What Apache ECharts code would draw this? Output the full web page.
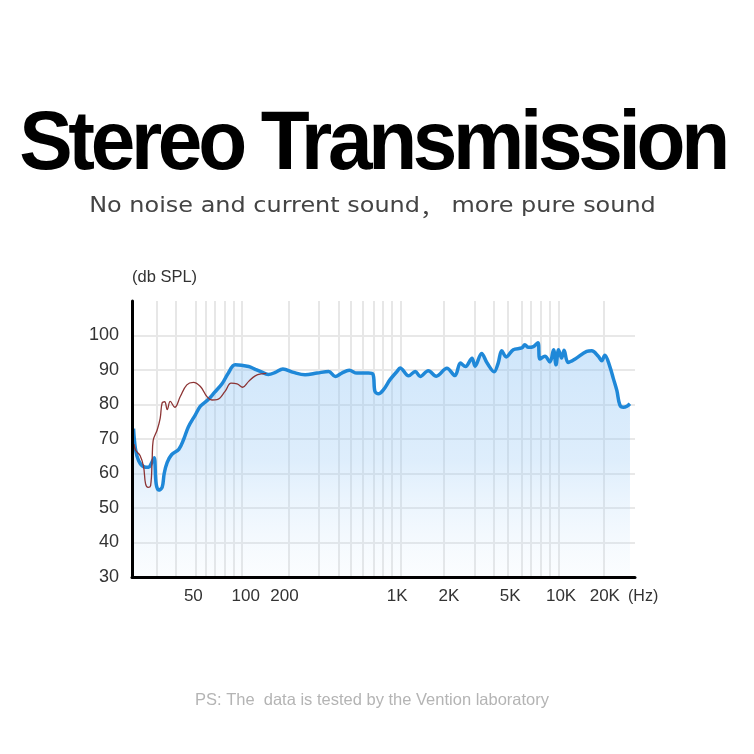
<!DOCTYPE html>
<html>
<head>
<meta charset="utf-8">
<script src="https://cdn.jsdelivr.net/npm/echarts@6/dist/echarts.min.js"></script>
<style>
html,body{margin:0;padding:0;background:#fff;}
#c{width:754px;height:754px;}
</style>
</head>
<body>
<div id="c"></div>
<script>
// X axis is a drawn "position" scale (0 = left edge, 100 = right edge of the plot)
const xTickLabels = ['50', '100', '200', '1K', '2K', '5K', '10K', '20K'];
const xTickPos = [12.2, 22.6, 30.3, 52.7, 63.0, 75.2, 85.3, 94.0];
const xGridPos = [5.0, 8.6, 12.6, 14.6, 16.5, 18.4, 20.2, 21.9, 31.1, 37.1, 41.1, 43.4, 45.8, 48.0, 49.8, 51.7, 53.5, 61.9, 68.1, 71.9, 74.8, 77.5, 79.3, 81.3, 83.1, 84.8, 93.7];
const yGridValues = [40, 50, 60, 70, 80, 90, 100];

// Main response (blue)
const blueX = [0.3, 0.7, 1.3, 2.3, 3.3, 3.8, 4.4, 4.8, 5.3, 6.0, 6.4, 7.0, 7.9, 9.3, 10.3, 11.2, 12.6, 13.6, 15.2, 16.4, 17.9, 19.1, 20.5, 23.2, 24.5, 25.5, 27.1, 28.5, 30.0, 32.1, 34.4, 36.8, 39.1, 40.4, 41.7, 43.2, 44.7, 47.0, 47.9, 48.3, 49.0, 50.0, 51.3, 52.7, 53.3, 55.0, 56.3, 57.3, 58.9, 60.5, 62.6, 64.2, 65.3, 66.3, 67.6, 68.2, 69.5, 70.6, 72.0, 72.8, 73.5, 74.4, 75.8, 77.5, 78.1, 78.8, 79.8, 80.7, 81.1, 82.1, 83.1, 83.8, 84.3, 84.8, 85.4, 85.9, 86.7, 88.1, 90.4, 91.4, 92.7, 93.4, 94.0, 95.0, 95.7, 96.4, 97.0, 97.7, 98.4, 99.0];
const blueY = [73.0, 67.0, 63.8, 62.0, 61.8, 62.8, 64.6, 57.0, 55.2, 56.0, 60.0, 63.2, 65.5, 67.0, 70.0, 73.5, 77.0, 79.5, 81.5, 83.5, 86.0, 89.0, 91.5, 91.0, 90.2, 89.6, 88.7, 89.3, 90.3, 89.3, 88.6, 89.1, 89.6, 88.1, 89.1, 89.9, 89.1, 89.1, 88.8, 83.8, 83.1, 84.3, 87.2, 89.6, 90.6, 88.3, 89.6, 88.1, 89.8, 88.2, 90.5, 88.4, 92.0, 91.0, 93.4, 91.1, 94.8, 92.0, 89.5, 92.0, 95.6, 93.8, 95.9, 96.4, 97.3, 96.6, 96.8, 97.9, 93.2, 94.0, 92.3, 95.9, 91.5, 95.9, 93.5, 95.7, 92.2, 93.2, 95.4, 95.6, 94.0, 92.7, 94.3, 91.0, 87.5, 84.0, 79.8, 79.2, 79.5, 80.2];

// Second response (thin red, low range only)
const redX = [0.4, 0.7, 1.6, 2.3, 2.7, 3.2, 3.7, 4.0, 4.2, 5.0, 5.6, 6.0, 6.5, 7.0, 7.6, 8.5, 9.6, 10.9, 12.2, 13.6, 14.9, 15.9, 16.9, 18.5, 19.7, 20.9, 22.0, 23.2, 24.5, 25.8, 26.7];
const redY = [68.5, 66.8, 65.2, 62.0, 57.0, 56.0, 56.5, 64.0, 69.5, 72.6, 76.0, 80.5, 80.8, 78.5, 80.9, 79.2, 82.3, 85.7, 86.4, 85.2, 82.3, 81.3, 81.4, 83.8, 86.2, 86.0, 85.0, 86.7, 88.3, 88.9, 89.0];

const zip = (xs, ys) => xs.map((x, i) => [x, ys[i]]);

// Tight tracking for the large headline only (canvas letterSpacing), state fully reset afterwards
(function () {
  const proto = CanvasRenderingContext2D.prototype;
  const orig = proto.fillText;
  proto.fillText = function () {
    const hasLS = ('letterSpacing' in this);
    const tight = hasLS && typeof this.font === 'string' && this.font.indexOf('84px') >= 0;
    if (tight) {
      const f = this.font;
      this.save();
      this.letterSpacing = '-4.5px';
      this.font = '10px sans-serif';
      this.font = f;
      const r = orig.apply(this, arguments);
      this.restore();
      this.letterSpacing = '0px';
      const f2 = this.font;
      this.font = '10px sans-serif';
      this.font = f2;
      return r;
    }
    if (hasLS && this.letterSpacing !== '0px') {
      const f3 = this.font;
      this.letterSpacing = '0px';
      this.font = '10px sans-serif';
      this.font = f3;
    }
    return orig.apply(this, arguments);
  };
})();

const chart = echarts.init(document.getElementById('c'), null, {renderer: 'canvas'});
const gridW = 503, gridH = 276;
const labelFont = '"Liberation Sans", Arial, sans-serif';

chart.setOption({
  animation: false,
  backgroundColor: '#ffffff',
  grid: {left: 132, top: 301, width: gridW, height: gridH, containLabel: false},
  graphic: [
    {type: 'text', x: 372.5, y: 146, scaleX: 0.954, z: 10,
     style: {text: 'Stereo Transmission', fontSize: 84, fontWeight: 'bold', fontFamily: '"Liberation Sans", Arial, sans-serif', fill: '#000000',
             textAlign: 'center', textVerticalAlign: 'middle', align: 'center', verticalAlign: 'middle'}},
    {type: 'text', x: 372.5, y: 207, scaleX: 1.14, z: 9,
     style: {text: '{a|No noise and current sound}{b|，}{a| more pure sound}',
             rich: {
               a: {fontSize: 21, fontFamily: '"DejaVu Sans", sans-serif', color: '#444444'},
               b: {fontSize: 21, fontFamily: '"Noto Sans CJK SC", sans-serif', color: '#444444'}
             },
             fill: '#444444',
             textAlign: 'center', textVerticalAlign: 'middle', align: 'center', verticalAlign: 'middle'}},
    {type: 'text', x: 372, y: 700, z: 9,
     style: {text: 'PS: The  data is tested by the Vention laboratory', fontSize: 16.5, fontFamily: '"Liberation Sans", Arial, sans-serif', fill: '#b4b4b4',
             textAlign: 'center', textVerticalAlign: 'middle', align: 'center', verticalAlign: 'middle'}}
  ],
  xAxis: [
    {
      type: 'value', min: 0, max: 100, position: 'bottom', z: 5,
      name: '(Hz)', nameLocation: 'end', nameGap: -7,
      nameTextStyle: {color: '#333', fontSize: 16, fontFamily: labelFont, verticalAlign: 'top', align: 'left', padding: [12, 0, 0, 0]},
      axisLine: {show: true, lineStyle: {color: '#000', width: 3}},
      axisTick: {show: false},
      splitLine: {show: false},
      axisLabel: {
        customValues: xTickPos, margin: 11, color: '#333', fontSize: 17, fontFamily: labelFont,
        formatter: v => { const i = xTickPos.indexOf(v); return i >= 0 ? xTickLabels[i] : ''; }
      }
    },
    {
      type: 'value', min: 0, max: 100, position: 'bottom', z: 0,
      axisLine: {show: false},
      axisLabel: {show: false},
      splitLine: {show: false},
      axisTick: {show: true, customValues: xGridPos, inside: true, length: gridH, lineStyle: {color: '#e7e7e7', width: 2}}
    }
  ],
  yAxis: [
    {
      type: 'value', min: 30, max: 110, interval: 10, z: 5,
      name: '(db SPL)', nameLocation: 'end', nameGap: 15,
      nameTextStyle: {color: '#333', fontSize: 16.5, fontFamily: labelFont, align: 'left'},
      axisLine: {show: true, lineStyle: {color: '#000', width: 3}},
      axisTick: {show: false},
      splitLine: {show: false},
      axisLabel: {margin: 13, color: '#333', fontSize: 18, fontFamily: labelFont,
                  formatter: v => (v > 100 ? '' : String(v))}
    },
    {
      type: 'value', min: 30, max: 110, position: 'left', z: 0,
      axisLine: {show: false},
      axisLabel: {show: false},
      splitLine: {show: false},
      axisTick: {show: true, customValues: yGridValues, inside: true, length: gridW, lineStyle: {color: '#e8e8e8', width: 2}}
    }
  ],
  series: [
    {
      type: 'line', xAxisIndex: 0, yAxisIndex: 0, z: 2,
      data: zip(blueX, blueY), smooth: 0.35, showSymbol: false,
      lineStyle: {color: '#1f88d8', width: 3.5},
      areaStyle: {
        origin: 'start',
        color: new echarts.graphic.LinearGradient(0, 0, 0, 1, [
          {offset: 0, color: 'rgba(140,195,245,0.6)'},
          {offset: 0.5, color: 'rgba(150,200,245,0.45)'},
          {offset: 1, color: 'rgba(205,230,252,0.12)'}
        ])
      }
    },
    {
      type: 'line', xAxisIndex: 0, yAxisIndex: 0, z: 3,
      data: zip(redX, redY), smooth: 0.4, showSymbol: false,
      lineStyle: {color: '#8c3434', width: 1.3}
    }
  ]
});
</script>
</body>
</html>
